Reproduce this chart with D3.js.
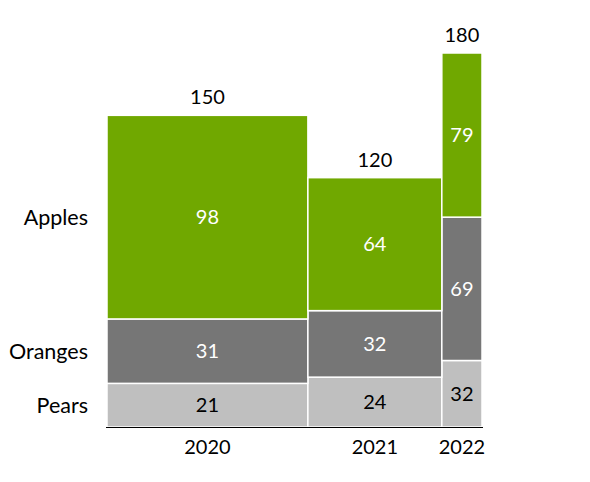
<!DOCTYPE html>
<meta charset="utf-8">
<style>
  body { margin: 0; background: #fff; }
  text { font-family: Lato, "Open Sans", sans-serif; font-size: 20px; }
  text.fruit { font-size: 21.5px; }
</style>
<body></body>
<script src="https://d3js.org/d3.v7.min.js"></script>
<script>

// data
var years = ["2020", "2021", "2022"];
var shares = [150, 100, 30];       // relative bar widths
var fruits = ["Pears", "Oranges", "Apples"];
var pears = [21, 24, 32];
var oranges = [31, 32, 69];
var apples = [98, 64, 79];
var colors = ["#bfbfbf", "#767676", "#70a800"];
var labelColors = ["#000", "#fff", "#fff"];

var W = 590, H = 482;
var plotLeft = 107, plotRight = 482, plotBase = 427, plotTop = 53;

var svg = d3.select("body").append("svg")
    .attr("width", W)
    .attr("height", H);

// build rows for the stack
var rows = years.map(function(y, i) {
  return { year: y, share: shares[i], Pears: pears[i], Oranges: oranges[i], Apples: apples[i] };
});
var totals = rows.map(function(r) { return r.Pears + r.Oranges + r.Apples; });

// cumulative x positions from shares
var cum = [0];
shares.forEach(function(s, i) { cum.push(cum[i] + s); });

var xscale = d3.scaleLinear()
    .domain([0, d3.sum(shares)])
    .range([plotLeft, plotRight]);

var yscale = d3.scaleLinear()
    .domain([0, d3.max(totals)])
    .range([plotBase, plotTop]);

var stacked = d3.stack().keys(fruits)(rows);

var layer = svg.selectAll("g.layer")
    .data(stacked)
    .enter().append("g")
    .attr("class", "layer");

layer.each(function(series, k) {
  var g = d3.select(this);
  g.selectAll("rect")
    .data(series)
    .enter().append("rect")
    .attr("x", function(d, i) { return xscale(cum[i]); })
    .attr("width", function(d, i) { return xscale(cum[i + 1]) - xscale(cum[i]); })
    .attr("y", function(d) { return yscale(d[1]); })
    .attr("height", function(d) { return yscale(d[0]) - yscale(d[1]); })
    .attr("fill", colors[k])
    .attr("stroke", "#fff")
    .attr("stroke-width", 1.5);

  g.selectAll("text")
    .data(series)
    .enter().append("text")
    .attr("x", function(d, i) { return (xscale(cum[i]) + xscale(cum[i + 1])) / 2; })
    .attr("y", function(d) { return (yscale(d[0]) + yscale(d[1])) / 2; })
    .attr("dy", "0.35em")
    .attr("text-anchor", "middle")
    .attr("fill", labelColors[k])
    .text(function(d) { return d[1] - d[0]; });
});

// totals above the bars
svg.selectAll("text.total")
  .data(totals)
  .enter().append("text")
  .attr("class", "total")
  .attr("x", function(d, i) { return (xscale(cum[i]) + xscale(cum[i + 1])) / 2; })
  .attr("y", function(d) { return yscale(d) - 11; })
  .attr("text-anchor", "middle")
  .text(function(d) { return d; });

// baseline
svg.append("line")
  .attr("x1", plotLeft - 1).attr("x2", plotRight + 1)
  .attr("y1", plotBase + 0.5).attr("y2", plotBase + 0.5)
  .attr("stroke", "#000")
  .attr("stroke-width", 1.2);

// year labels
svg.selectAll("text.year")
  .data(years)
  .enter().append("text")
  .attr("class", "year")
  .attr("x", function(d, i) { return (xscale(cum[i]) + xscale(cum[i + 1])) / 2; })
  .attr("y", plotBase + 20)
  .attr("dy", "0.35em")
  .attr("text-anchor", "middle")
  .text(function(d) { return d; });

// series names beside the first bar
svg.selectAll("text.fruit")
  .data(stacked)
  .enter().append("text")
  .attr("class", "fruit")
  .attr("x", plotLeft - 19)
  .attr("y", function(s) { return (yscale(s[0][0]) + yscale(s[0][1])) / 2; })
  .attr("dy", "0.35em")
  .attr("text-anchor", "end")
  .text(function(s) { return s.key; });

</script>
